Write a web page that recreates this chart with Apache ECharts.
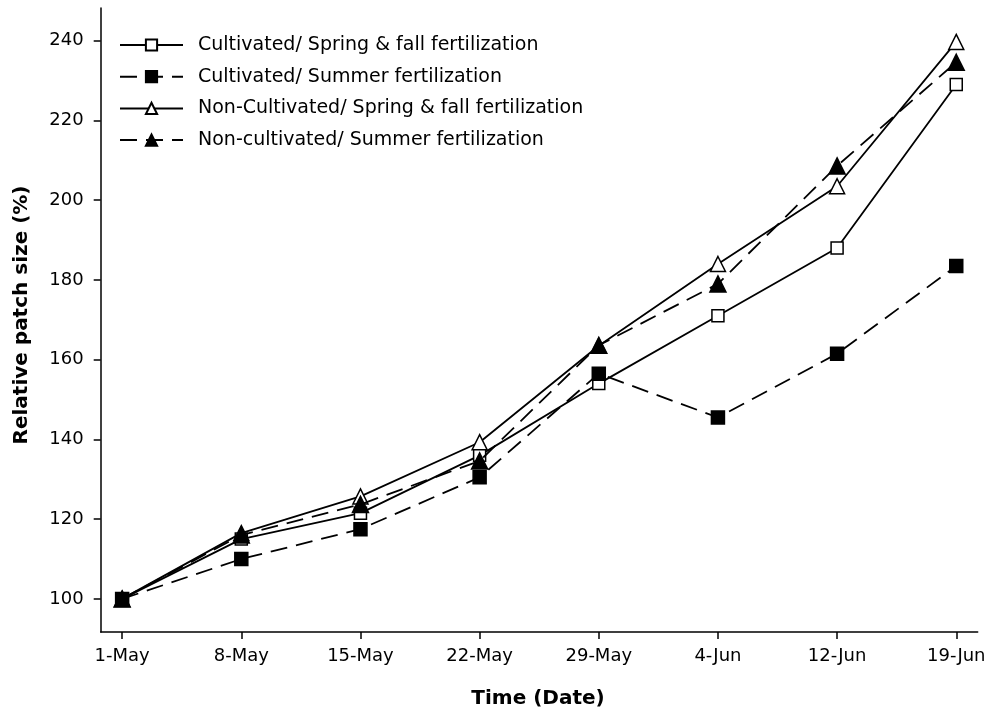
<!DOCTYPE html>
<html>
<head>
<meta charset="utf-8">
<script src="https://cdn.jsdelivr.net/npm/echarts@6/dist/echarts.min.js"></script>
<style>html,body{margin:0;padding:0;background:#fff}#c{width:989px;height:713px}</style>
</head>
<body>
<div id="c"></div>
<script>
var categories = ['1-May','8-May','15-May','22-May','29-May','4-Jun','12-Jun','19-Jun'];
var cultSpringFall = [100, 115, 121.5, 136, 154, 171, 188, 229];
var cultSummer = [100, 110, 117.5, 130.5, 156.5, 145.5, 161.5, 183.5];
var nonCultSpringFall = [100, 116.5, 125.7, 139.3, 163.5, 184, 203.5, 239.7];
var nonCultSummer = [100, 116, 123.7, 134.6, 163.6, 179, 208.6, 234.6];
var seriesNames = ['Cultivated/ Spring & fall fertilization','Cultivated/ Summer fertilization','Non-Cultivated/ Spring & fall fertilization','Non-cultivated/ Summer fertilization'];
var yTicks = [100,120,140,160,180,200,220,240];

function pts(arr){ return arr.map(function(v,i){ return [i, v]; }); }
var xIdx = categories.map(function(c,i){ return i; });
var FONT = 'DejaVu Sans';

function mk(name, data, symbol, filled, dashed, size){
  return {
    name: name, type: 'line', data: pts(data), symbol: symbol, symbolSize: size,
    lineStyle: {color:'#000', width:1.8, type: dashed ? [17,9] : 'solid'},
    itemStyle: {color: filled ? '#000' : '#fff', borderColor:'#000', borderWidth: 1.5},
    emphasis: {disabled:true}, animation:false, z: filled ? 3 : 2
  };
}

var chart = echarts.init(document.getElementById('c'));
chart.setOption({
  backgroundColor:'#fff',
  animation:false,
  grid:{left:100.7, right:11.3, top:8, bottom:81},
  legend:{
    orient:'vertical', left:119, top:35.5, padding:0, itemWidth:63, itemHeight:14, itemGap:12.7,
    textStyle:{fontFamily:FONT, fontSize:19, lineHeight:19, color:'#000', padding:[0,0,0,10]},
    data: seriesNames
  },
  xAxis:{
    type:'value', min:-0.18, max:7.18,
    axisLine:{show:true, onZero:false, lineStyle:{color:'#000', width:1.5}},
    axisTick:{show:true, customValues:xIdx, length:7, inside:false, lineStyle:{color:'#000', width:1.5}},
    axisLabel:{customValues:xIdx, formatter:function(v){ return categories[Math.round(v)]; }, fontFamily:FONT, fontSize:18, color:'#000', margin:15},
    splitLine:{show:false}
  },
  yAxis:{
    type:'value', min:91.7, max:248.2,
    axisLine:{show:true, onZero:false, lineStyle:{color:'#000', width:1.5}},
    axisTick:{show:true, customValues:yTicks, length:7, lineStyle:{color:'#000', width:1.5}},
    axisLabel:{customValues:yTicks, fontFamily:FONT, fontSize:18, color:'#000', margin:17},
    splitLine:{show:false}
  },
  graphic:[
    {type:'text', x:538, y:699, style:{text:'Time (Date)', font:'bold 20px "DejaVu Sans"', fill:'#000', align:'center', verticalAlign:'middle'}},
    {type:'text', x:22, y:315, rotation:Math.PI/2, style:{text:'Relative patch size (%)', font:'bold 20px "DejaVu Sans"', fill:'#000', align:'center', verticalAlign:'middle'}}
  ],
  series:[
    mk(seriesNames[0], cultSpringFall, 'rect', false, false, 12),
    mk(seriesNames[1], cultSummer, 'rect', true, true, 13),
    mk(seriesNames[2], nonCultSpringFall, 'triangle', false, false, 15),
    mk(seriesNames[3], nonCultSummer, 'triangle', true, true, 16)
  ]
});
</script>
</body>
</html>
